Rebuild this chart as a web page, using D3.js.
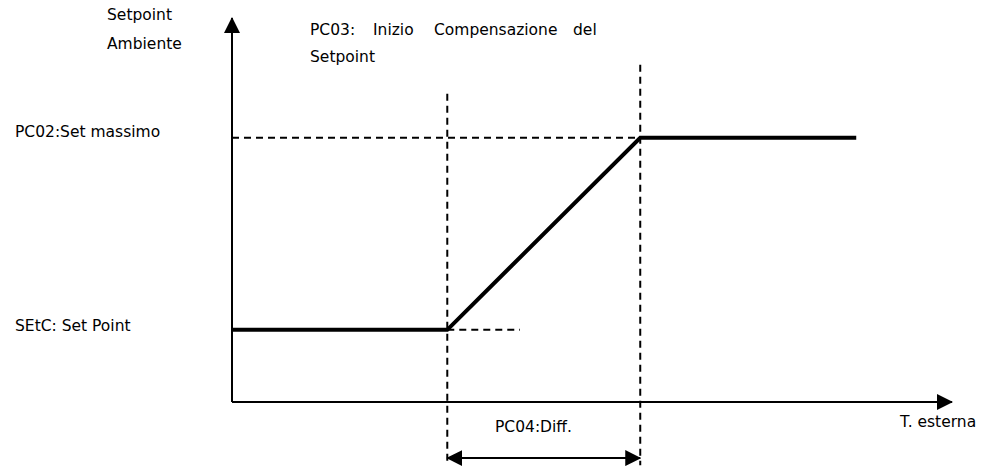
<!DOCTYPE html>
<html>
<head>
<meta charset="utf-8">
<script src="https://cdn.jsdelivr.net/npm/d3@7"></script>
<style>
  body { margin: 0; background: #fff; }
  svg text { font-family: "DejaVu Sans", Verdana, sans-serif; font-size: 15.5px; fill: #000; }
</style>
</head>
<body>
<svg id="chart" width="983" height="472"></svg>
<script>
// abstract units: T. esterna 0..100, setpoint 0..100
const curveT = [0, 29.9, 56.7, 86.7];
const curveSet = [18.8, 18.8, 68.8, 68.8];
const setMin = 18.8;
const setMax = 68.8;
const compStart = 29.9;
const compEnd = 56.7;
const setMinGuideEnd = 40;
const guideTop = [80.3, 87.8];
const guideBottom = -16.5;
const diffArrowY = -14.6;

const titleWords = ['PC03:', 'Inizio', 'Compensazione', 'del'];
const titleWordX = [310, 373, 434, 573];

const svg = d3.select('#chart');

const x = d3.scaleLinear().domain([0, 100]).range([232, 952]);
const y = d3.scaleLinear().domain([0, 100]).range([402, 18]);

const defs = svg.append('defs');
function arrowMarker(id) {
    defs.append('marker')
        .attr('id', id)
        .attr('markerUnits', 'userSpaceOnUse')
        .attr('markerWidth', 16)
        .attr('markerHeight', 16)
        .attr('viewBox', '0 0 16 16')
        .attr('refX', 15)
        .attr('refY', 8)
        .attr('orient', 'auto-start-reverse')
        .append('path')
        .attr('d', 'M0,0 L16,8 L0,16 Z')
        .attr('fill', '#000');
}
arrowMarker('arrow');

const line = d3.line().x(d => x(d[0])).y(d => y(d[1]));

// dashed guides
const dash = '7,5';
const guides = [
    [[0, setMax], [compEnd, setMax]],
    [[compStart, setMin], [setMinGuideEnd, setMin]],
    [[compStart, guideTop[0]], [compStart, guideBottom]],
    [[compEnd, guideTop[1]], [compEnd, guideBottom]],
];
svg.append('g').selectAll('path').data(guides).enter().append('path')
    .attr('d', line)
    .attr('fill', 'none')
    .attr('stroke', '#000')
    .attr('stroke-width', 2)
    .attr('stroke-dasharray', dash);

// axes
svg.append('path')
    .attr('d', line([[0, 0], [0, 100]]))
    .attr('stroke', '#000').attr('stroke-width', 2)
    .attr('marker-end', 'url(#arrow)');
svg.append('path')
    .attr('d', line([[0, 0], [100, 0]]))
    .attr('stroke', '#000').attr('stroke-width', 2)
    .attr('marker-end', 'url(#arrow)');

// compensation curve
svg.append('path')
    .datum(curveT.map((t, i) => [t, curveSet[i]]))
    .attr('d', line)
    .attr('fill', 'none')
    .attr('stroke', '#000')
    .attr('stroke-width', 4)
    .attr('stroke-linejoin', 'miter');

// diff double arrow
svg.append('path')
    .attr('d', line([[compStart, diffArrowY], [compEnd, diffArrowY]]))
    .attr('stroke', '#000').attr('stroke-width', 2)
    .attr('marker-start', 'url(#arrow)')
    .attr('marker-end', 'url(#arrow)');

// labels
const labels = [
    { text: 'Setpoint', x: 107, y: 20 },
    { text: 'Ambiente', x: 107, y: 49 },
    { text: 'Setpoint', x: 310, y: 62 },
    { text: 'PC02:Set massimo', x: 15, y: 137 },
    { text: 'SEtC: Set Point', x: 15, y: 331 },
    { text: 'PC04:Diff.', x: 495, y: 432 },
    { text: 'T. esterna', x: 900, y: 427 },
];
svg.append('g').selectAll('text').data(labels).enter().append('text')
    .attr('x', d => d.x)
    .attr('y', d => d.y)
    .text(d => d.text);

svg.append('g').selectAll('text').data(titleWords).enter().append('text')
    .attr('x', (d, i) => titleWordX[i])
    .attr('y', 35)
    .text(d => d);
</script>
</body>
</html>
